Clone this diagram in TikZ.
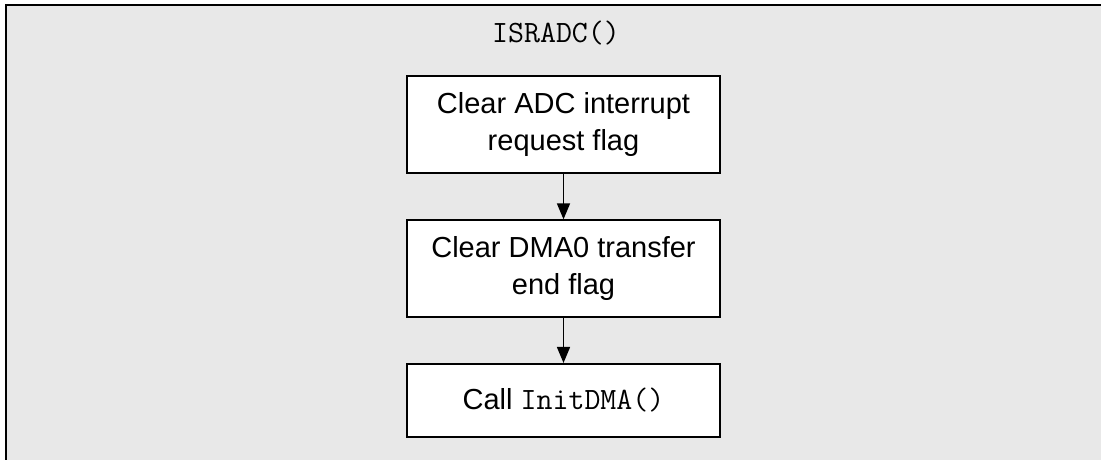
\documentclass[tikz,border=0pt]{standalone}
\usepackage{fontspec}
\setmainfont{Liberation Sans}
\usetikzlibrary{arrows.meta}
\definecolor{panelgray}{HTML}{E8E8E8}
\tikzset{
  stepbox/.style={draw=black, line width=2pt, fill=white,
    minimum width=313pt, align=center, inner sep=0pt,
    font=\fontsize{29}{37}\selectfont},
  codetext/.style={font=\fontsize{31}{37}\ttfamily},
  flow/.style={line width=1.6pt, -{Triangle[width=13pt,length=16pt]}},
}
\begin{document}
\begin{tikzpicture}[x=1pt,y=-1pt]
  \useasboundingbox (0,0) rectangle (1101,459);
  \clip (0,0) rectangle (1101,459);
  % panel with its frame (open to the right and bottom)
  \fill[panelgray] (5.5,4.5) rectangle (1110,470);
  \draw[line width=2pt] (5.5,470) -- (5.5,4.5) -- (1110,4.5);
  % title
  \node[codetext] (title) at (556,33) {ISRADC()};
  % steps
  \node[stepbox, minimum height=96.7pt] (clr) at (563.5,124.3)
    {Clear ADC interrupt\\request flag};
  \node[stepbox, minimum height=96.7pt] (dma) at (563.5,268.7)
    {Clear DMA0 transfer\\end flag};
  \node[stepbox, minimum height=72.7pt] (call) at (563.5,400.3)
    {Call {\fontsize{31}{37}\ttfamily InitDMA()}};
  % connectors
  \draw[flow] (clr.south) -- (dma.north);
  \draw[flow] (dma.south) -- (call.north);
\end{tikzpicture}
\end{document}
